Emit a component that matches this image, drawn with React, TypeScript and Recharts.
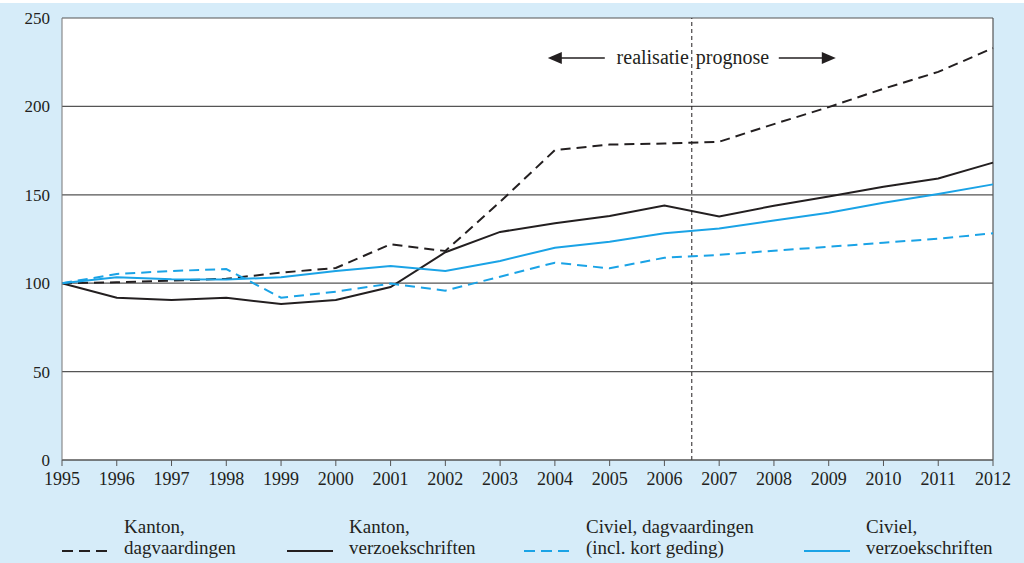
import React from 'react';
import {
  LineChart,
  Line,
  XAxis,
  YAxis,
  CartesianGrid,
  ReferenceLine,
} from 'recharts';

const years = [1995, 1996, 1997, 1998, 1999, 2000, 2001, 2002, 2003, 2004, 2005, 2006, 2007, 2008, 2009, 2010, 2011, 2012];

// index 1995 = 100
const kantonDagvaardingen = [100, 100.5, 101.5, 102.5, 106, 108.6, 122, 118.2, 146, 175.3, 178.4, 179, 180, 190, 199.6, 210, 219.5, 233];
const kantonVerzoekschriften = [100, 91.8, 90.5, 91.8, 88.2, 90.5, 97.8, 117.5, 129, 133.9, 138, 144, 137.8, 143.8, 149, 154.6, 159.2, 168.2];
const civielDagvaardingen = [100, 105.2, 106.9, 108, 91.8, 95.2, 99.8, 95.8, 103.7, 111.6, 108.4, 114.4, 116, 118.4, 120.6, 122.9, 125.2, 128.2];
const civielVerzoekschriften = [100, 103.3, 102.3, 102.1, 103.3, 106.9, 109.7, 106.9, 112.6, 120.1, 123.5, 128.2, 131, 135.4, 139.9, 145.5, 150.5, 155.9];

const yTicks = [0, 50, 100, 150, 200, 250];

const BLACK = '#231f20';
const BLUE = '#1aa3e6';
const BG = '#d6ecf9';

const series = [
  { key: 'kd', name: ['Kanton,', 'dagvaardingen'], color: BLACK, dash: '10 6', values: kantonDagvaardingen },
  { key: 'kv', name: ['Kanton,', 'verzoekschriften'], color: BLACK, dash: undefined, values: kantonVerzoekschriften },
  { key: 'cd', name: ['Civiel, dagvaardingen', '(incl. kort geding)'], color: BLUE, dash: '10 6', values: civielDagvaardingen },
  { key: 'cv', name: ['Civiel,', 'verzoekschriften'], color: BLUE, dash: undefined, values: civielVerzoekschriften },
];

const data = years.map((year, i) => {
  const row: { [k: string]: number } = { year };
  series.forEach((s) => {
    row[s.key] = s.values[i];
  });
  return row;
});

const legendX = [62, 287, 524, 804];

const FONT = '"Liberation Serif", "DejaVu Serif", serif';

// arrows + text around the forecast divider
const PrognoseLabel = (props: any) => {
  const { viewBox } = props;
  const x = viewBox.x;
  const y = viewBox.y + 40;
  return (
    <g fontFamily={FONT} fontSize={20} fill={BLACK}>
      <line x1={x - 136} y1={y} x2={x - 87} y2={y} stroke={BLACK} strokeWidth={1.3} />
      <polygon points={`${x - 144},${y} ${x - 130},${y - 6} ${x - 130},${y + 6}`} fill={BLACK} />
      <text x={x - 3} y={y + 6} textAnchor="end">realisatie</text>
      <text x={x + 4} y={y + 6} textAnchor="start">prognose</text>
      <line x1={x + 87} y1={y} x2={x + 132} y2={y} stroke={BLACK} strokeWidth={1.3} />
      <polygon points={`${x + 144},${y} ${x + 130},${y - 6} ${x + 130},${y + 6}`} fill={BLACK} />
    </g>
  );
};

const ChartLegend = () => (
  <div style={{ position: 'absolute', left: 0, top: 516, width: 1024, height: 47, fontFamily: FONT, fontSize: 19, color: BLACK }}>
    {series.map((s, i) => (
      <div key={s.key} style={{ position: 'absolute', left: legendX[i], top: 0 }}>
        <svg width={48} height={46} style={{ position: 'absolute', left: 0, top: 0 }}>
          <line x1={0} y1={35} x2={46} y2={35} stroke={s.color} strokeWidth={2.2} strokeDasharray={s.dash ? '11 6' : undefined} />
        </svg>
        <div style={{ position: 'absolute', left: 62, top: 0, lineHeight: '21px', whiteSpace: 'nowrap' }}>
          <div>{s.name[0]}</div>
          <div>{s.name[1]}</div>
        </div>
      </div>
    ))}
  </div>
);

export default function App() {
  return (
    <div style={{ position: 'fixed', left: 0, top: 0, width: 1024, height: 563, background: '#fff' }}>
      <div style={{ position: 'absolute', left: 0, top: 3, width: 1024, height: 560, background: BG }} />
      <div style={{ position: 'absolute', left: 0, top: 0 }}>
        <LineChart width={1024} height={563} data={data} margin={{ top: 18, right: 31, left: 0, bottom: 0 }}>
          <CartesianGrid vertical={false} fill="#ffffff" stroke="#555" strokeWidth={1.2} />
          <XAxis
            dataKey="year"
            type="number"
            domain={[1995, 2012]}
            ticks={years}
            interval={0}
            tickSize={6}
            tickMargin={6}
            stroke="#555"
            height={103}
            tick={{ fill: BLACK, fontFamily: FONT, fontSize: 18 }}
          />
          <YAxis
            width={62}
            domain={[0, 250]}
            ticks={yTicks}
            tickLine={false}
            tickSize={0}
            tickMargin={12}
            stroke="#777"
            tick={{ fill: BLACK, fontFamily: FONT, fontSize: 17 }}
          />
          <ReferenceLine x={2012} stroke="#555" strokeWidth={1.2} />
          <ReferenceLine
            x={2006.5}
            stroke={BLACK}
            strokeWidth={1}
            strokeDasharray="4 3"
            label={<PrognoseLabel />}
          />
          {series.map((s) => (
            <Line
              key={s.key}
              dataKey={s.key}
              type="linear"
              stroke={s.color}
              strokeWidth={2}
              strokeDasharray={s.dash}
              dot={false}
              activeDot={false}
              isAnimationActive={false}
            />
          ))}
        </LineChart>
      </div>
      <ChartLegend />
    </div>
  );
}
